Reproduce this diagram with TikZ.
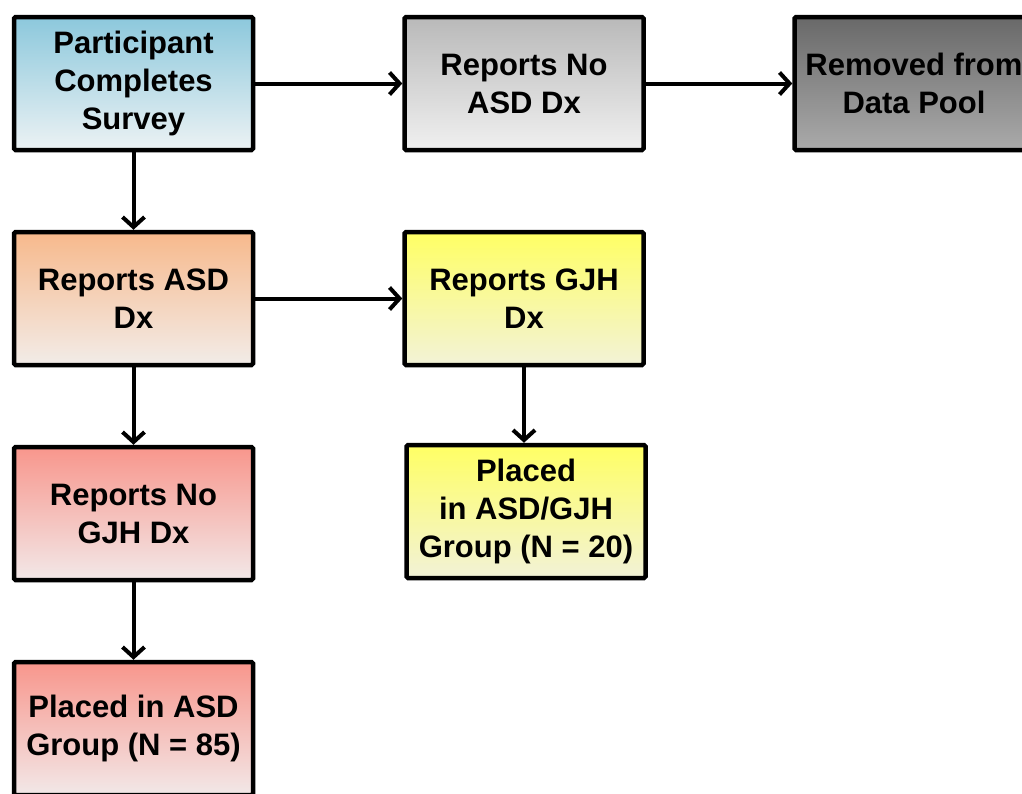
\documentclass[tikz,border=0pt]{standalone}
\usepackage{fontspec}
\setmainfont{Liberation Sans}
\usetikzlibrary{arrows.meta}
\definecolor{blueT}{RGB}{140,200,220}
\definecolor{blueB}{RGB}{236,242,244}
\definecolor{grayT}{RGB}{185,185,185}
\definecolor{grayB}{RGB}{240,240,240}
\definecolor{dgrayT}{RGB}{105,105,105}
\definecolor{dgrayB}{RGB}{170,170,170}
\definecolor{peachT}{RGB}{247,185,140}
\definecolor{peachB}{RGB}{242,236,232}
\definecolor{yelT}{RGB}{255,255,100}
\definecolor{yelB}{RGB}{242,242,215}
\definecolor{salT}{RGB}{248,150,140}
\definecolor{salB}{RGB}{242,232,232}
\begin{document}
\begin{tikzpicture}[x=1pt,y=-1pt,
  box/.style={draw=black, line width=4.5pt, rounded corners=1.5pt,
    minimum width=239pt, minimum height=133pt, inner sep=0pt,
    align=center, font=\fontsize{31}{38}\selectfont\bfseries},
  conn/.style={line width=4pt, -{Straight Barb[length=10pt,width=22pt]}}]
\useasboundingbox (0,0) rectangle (1022,793);
\clip (0,0) rectangle (1022,793);
\fill[white] (0,0) rectangle (1022,793);

\node[box, top color=blueT, bottom color=blueB] (survey) at (133.5,83.5) {Participant\\Completes\\Survey};
\node[box, top color=grayT, bottom color=grayB] (noasd) at (524,83.5) {Reports No\\ASD Dx};
\node[box, top color=dgrayT, bottom color=dgrayB] (removed) at (914,83.5) {Removed from\\Data Pool};
\node[box, top color=peachT, bottom color=peachB] (asd) at (133.5,298.5) {Reports ASD\\Dx};
\node[box, top color=yelT, bottom color=yelB] (gjh) at (524,298.5) {Reports GJH\\Dx};
\node[box, top color=salT, bottom color=salB] (nogjh) at (133.5,513.5) {Reports No\\GJH Dx};
\node[box, top color=yelT, bottom color=yelB] (asdgjh) at (526,511.5) {Placed\\in ASD/GJH\\Group (N = 20)};
\node[box, top color=salT, bottom color=salB] (asdgroup) at (133.5,728.5) {Placed in ASD\\Group (N = 85)};

\draw[conn] (survey.east) -- (noasd.west);
\draw[conn] (noasd.east) -- (removed.west);
\draw[conn] (survey.south) -- (asd.north);
\draw[conn] (asd.east) -- (gjh.west);
\draw[conn] (asd.south) -- (nogjh.north);
\draw[conn] (gjh.south) -- (gjh.south |- asdgjh.north);
\draw[conn] (nogjh.south) -- (asdgroup.north);
\end{tikzpicture}
\end{document}
